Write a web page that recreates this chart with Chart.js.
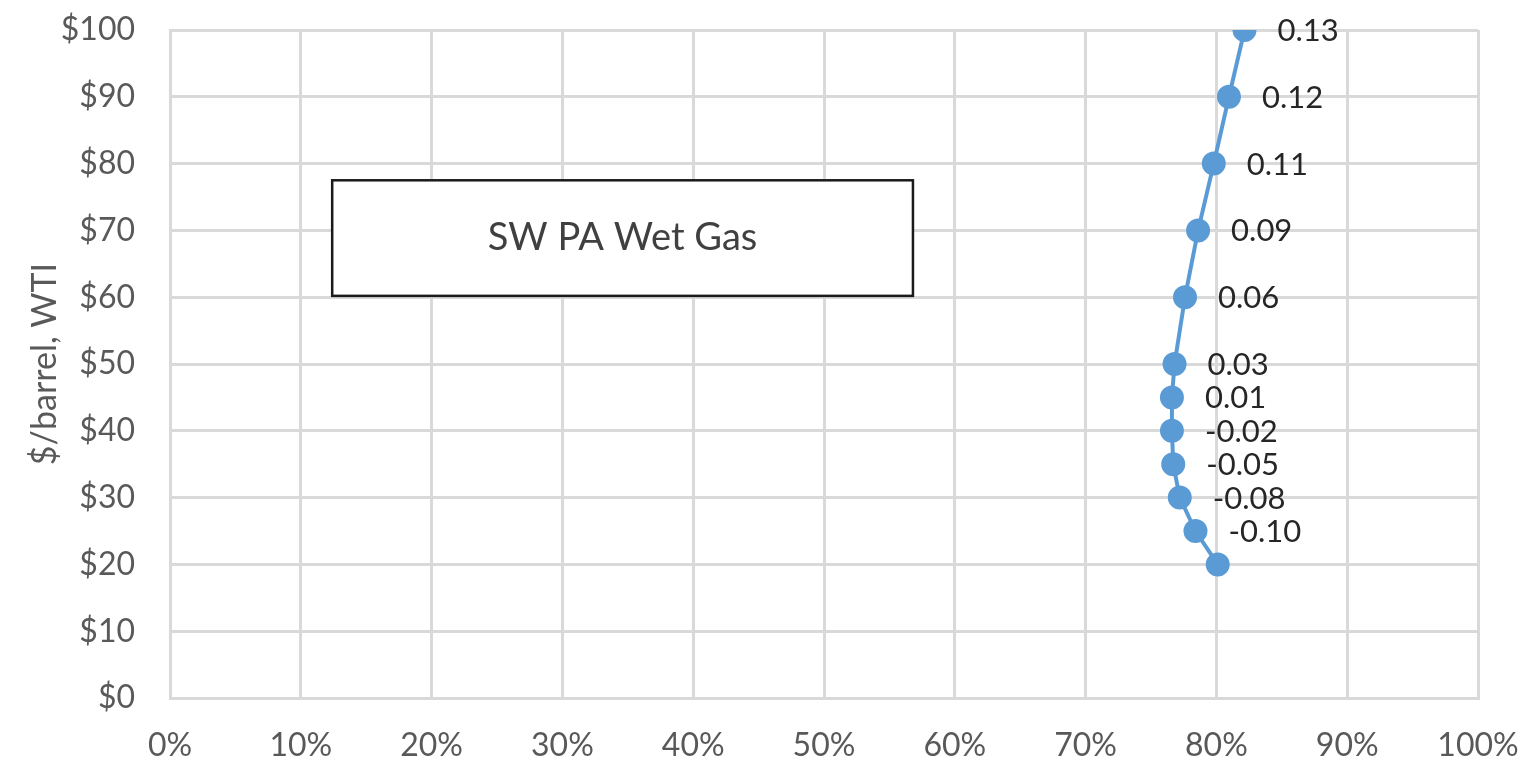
<!DOCTYPE html>
<html>
<head>
<meta charset="utf-8">
<script src="https://cdn.jsdelivr.net/npm/chart.js@4.4.1/dist/chart.umd.min.js"></script>
<style>
  html, body { margin: 0; padding: 0; background: #fff; }
  #wrap { width: 1520px; height: 758px; position: relative; }
</style>
</head>
<body>
<div id="wrap"><canvas id="chart"></canvas></div>
<script>
// WTI price ($/barrel) vs share
const prices = [100, 90, 80, 70, 60, 50, 45, 40, 35, 30, 25, 20];
const shares = [0.8215, 0.8096, 0.798, 0.786, 0.776, 0.768, 0.766, 0.766, 0.767, 0.772, 0.784, 0.801];
const pointLabels = ["0.13", "0.12", "0.11", "0.09", "0.06", "0.03", "0.01", "-0.02", "-0.05", "-0.08", "-0.10", ""];
const yTicks = [0, 10, 20, 30, 40, 50, 60, 70, 80, 90, 100];
const xTicks = [0, 0.1, 0.2, 0.3, 0.4, 0.5, 0.6, 0.7, 0.8, 0.9, 1];
const boxText = "SW PA Wet Gas";
const yTitle = "$/barrel, WTI";

const FONT = "Lato, 'Open Sans', sans-serif";
const grid = "#d9d9d9";

// labels next to points + the text box + axis title
const extras = {
  id: "extras",
  afterDatasetsDraw(chart) {
    const ctx = chart.ctx;
    const xs = chart.scales.x, ys = chart.scales.y;

    // text box
    const x0 = xs.getPixelForValue(0.124), x1 = xs.getPixelForValue(0.568);
    const y0 = ys.getPixelForValue(77.5), y1 = ys.getPixelForValue(60.2);
    ctx.save();
    ctx.fillStyle = "#fff";
    ctx.fillRect(x0, y0, x1 - x0, y1 - y0);
    ctx.strokeStyle = "#1a1a1a";
    ctx.lineWidth = 2.5;
    ctx.strokeRect(x0, y0, x1 - x0, y1 - y0);
    ctx.fillStyle = "#404040";
    ctx.font = "38px " + FONT;
    ctx.textAlign = "center";
    ctx.textBaseline = "middle";
    ctx.fillText(boxText, (x0 + x1) / 2, (y0 + y1) / 2);

    // point labels
    const meta = chart.getDatasetMeta(0);
    ctx.font = "31px " + FONT;
    ctx.textAlign = "left";
    ctx.fillStyle = "#262626";
    meta.data.forEach((pt, i) => {
      if (!pointLabels[i]) return;
      ctx.fillText(pointLabels[i], pt.x + 33, pt.y + 1);
    });

    // y axis title
    ctx.translate(45, (chart.chartArea.top + chart.chartArea.bottom) / 2);
    ctx.rotate(-Math.PI / 2);
    ctx.textAlign = "center";
    ctx.fillStyle = "#595959";
    ctx.font = "34px " + FONT;
    ctx.fillText(yTitle, 0, 0);
    ctx.restore();
  }
};

new Chart(document.getElementById("chart"), {
  type: "line",
  data: {
    datasets: [{
      data: prices.map((p, i) => ({ x: shares[i], y: p })),
      borderColor: "#5b9bd5",
      backgroundColor: "#5b9bd5",
      borderWidth: 4,
      pointRadius: 10,
      pointHoverRadius: 10,
      tension: 0,
      fill: false
    }]
  },
  options: {
    responsive: true,
    maintainAspectRatio: false,
    animation: false,
    layout: { padding: { top: 30, right: 42, left: 0, bottom: 0 } },
    plugins: { legend: { display: false }, tooltip: { enabled: false } },
    scales: {
      x: {
        type: "linear",
        min: 0, max: 1,
        afterBuildTicks: s => { s.ticks = xTicks.map(v => ({ value: v })); },
        afterFit: s => { s.height = 60; s.paddingLeft = 0; s.paddingRight = 0; },
        grid: { color: grid, lineWidth: 3, drawTicks: false },
        border: { color: grid, width: 3 },
        ticks: {
          padding: 28,
          color: "#595959",
          font: { family: FONT, size: 32 },
          callback: v => Math.round(v * 100) + "%"
        }
      },
      y: {
        type: "linear",
        min: 0, max: 100,
        afterBuildTicks: s => { s.ticks = yTicks.map(v => ({ value: v })); },
        afterFit: s => { s.width = 170; s.paddingTop = 0; s.paddingBottom = 0; },
        grid: { color: grid, lineWidth: 3, drawTicks: false },
        border: { color: grid, width: 3 },
        ticks: {
          padding: 35,
          color: "#595959",
          font: { family: FONT, size: 32 },
          callback: v => "$" + v
        }
      }
    }
  },
  plugins: [extras]
});
</script>
</body>
</html>
